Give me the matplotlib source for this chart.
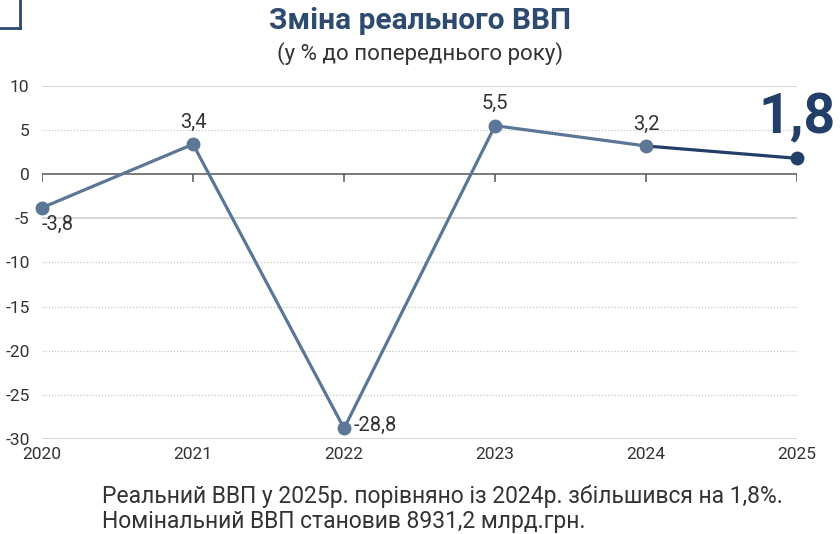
import matplotlib.pyplot as plt
from matplotlib.lines import Line2D

plt.rcParams['font.family'] = ['Roboto', 'DejaVu Sans']

years = [2020, 2021, 2022, 2023, 2024, 2025]
gdp = [-3.8, 3.4, -28.8, 5.5, 3.2, 1.8]
labels = ['-3,8', '3,4', '-28,8', '5,5', '3,2']
yticks = [10, 5, 0, -5, -10, -15, -20, -25, -30]
solid_grid = [10, -5, -30]

line_c = '#5b7696'
dark_c = '#213f69'

fig = plt.figure(figsize=(8.4, 5.34), dpi=100)
ax = fig.add_axes([0.05, 0.178, 0.899, 0.661])

for y in yticks:
    if y == 0:
        continue
    if y in solid_grid:
        ax.axhline(y, color='#cfcfcf', lw=1.2, zorder=0)
    else:
        ax.axhline(y, color='#c8c8c8', lw=0.9, ls=(0, (1, 1.5)), zorder=0)
ax.axhline(0, color='#555555', lw=1.1, zorder=1)
ax.vlines(years, -0.9, 0, color='#555555', lw=1.1, zorder=1)

ax.plot(years[:5], gdp[:5], color=line_c, lw=2.3, marker='o', ms=9, zorder=3, clip_on=False)
ax.plot(years[4:], gdp[4:], color=dark_c, lw=2.3, zorder=2, clip_on=False)
ax.plot(years[5], gdp[5], 'o', color=dark_c, ms=9, zorder=3, clip_on=False)

# data labels
ax.annotate(labels[0], (years[0], gdp[0]), xytext=(0, -5), textcoords='offset points',
            ha='left', va='top', fontsize=14.5, color='#333333')
ax.annotate(labels[1], (years[1], gdp[1]), xytext=(0, 9), textcoords='offset points',
            ha='center', va='bottom', fontsize=14.5, color='#333333')
ax.annotate(labels[2], (years[2], gdp[2]), xytext=(7, 2), textcoords='offset points',
            ha='left', va='center', fontsize=14.5, color='#333333')
ax.annotate(labels[3], (years[3], gdp[3]), xytext=(0, 9), textcoords='offset points',
            ha='center', va='bottom', fontsize=14.5, color='#333333')
ax.annotate(labels[4], (years[4], gdp[4]), xytext=(0, 9), textcoords='offset points',
            ha='center', va='bottom', fontsize=14.5, color='#333333')
ax.annotate('1,8', (years[5], gdp[5]), xytext=(0, 10), textcoords='offset points',
            ha='center', va='bottom', fontsize=40, fontweight='bold', color=dark_c,
            annotation_clip=False)

ax.set_xlim(years[0], years[-1])
ax.set_ylim(-30, 10)
ax.set_yticks(yticks)
ax.set_yticklabels([str(v) for v in yticks])
ax.set_xticks(years)
ax.tick_params(axis='both', length=0, labelsize=12.5, colors='#333333')
ax.tick_params(axis='y', pad=9)
ax.tick_params(axis='x', pad=6)
ax.set_xticklabels([str(y) for y in years])
for s in ax.spines.values():
    s.set_visible(False)

fig.text(0.5, 0.96, 'Зміна реального ВВП', ha='center', va='center',
         fontsize=21.5, fontweight='bold', color='#2d4a70')
fig.text(0.5, 0.9, '(у % до попереднього року)', ha='center', va='center',
         fontsize=16, color='#333333')
fig.text(0.121, 0.047, 'Реальний ВВП у 2025р. порівняно із 2024р. збільшився на 1,8%.\n'
         'Номінальний ВВП становив 8931,2 млрд.грн.', ha='left', va='center',
         fontsize=16.5, color='#333333', linespacing=1.1)

# corner frame decoration
fig.add_artist(Line2D([0.024, 0.024], [1.0, 0.948], color='#2d4a70', lw=2, transform=fig.transFigure))
fig.add_artist(Line2D([0.0, 0.024], [0.948, 0.948], color='#2d4a70', lw=2, transform=fig.transFigure))

fig.savefig('out.png', dpi=100)
